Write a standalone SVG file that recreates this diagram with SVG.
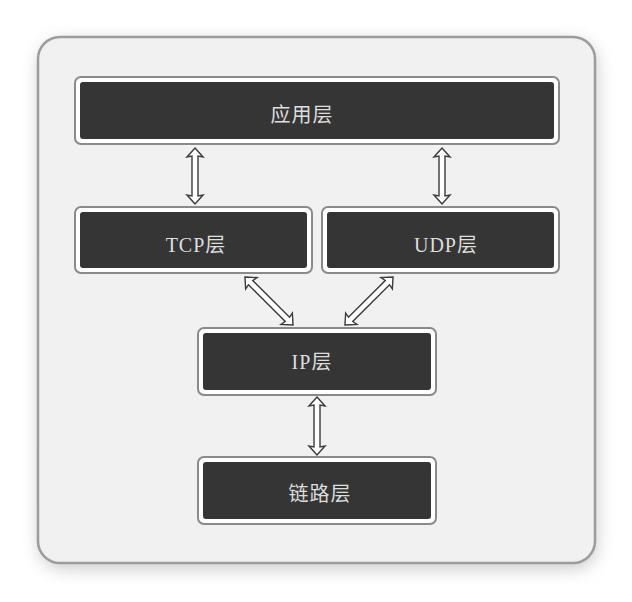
<svg xmlns="http://www.w3.org/2000/svg" width="632" height="602" viewBox="0 0 632 602">
  <defs>
    <filter id="shadow" x="-10%" y="-10%" width="120%" height="120%">
      <feGaussianBlur stdDeviation="9"/>
    </filter>
    <style>
      .frame { fill: #ffffff; stroke: #8a8a8a; stroke-width: 2; }
      .inner { fill: #353535; stroke: none; }
      .lbl { font-family: "Liberation Serif", "Noto Sans CJK SC", serif; font-size: 20px; fill: #dedede; text-anchor: middle; letter-spacing: 1px; }
      .arrow { fill: #ffffff; stroke: #3a3a3a; stroke-width: 1.4; stroke-linejoin: miter; }
    </style>
  </defs>
  <rect width="632" height="602" fill="#ffffff"/>
  <rect x="40" y="42" width="556" height="526" rx="22" fill="#9a9a9a" opacity="0.55" filter="url(#shadow)"/>
  <rect x="38" y="37" width="557" height="526" rx="22" fill="#f1f1f1" stroke="#9c9c9c" stroke-width="2.5"/>

  <g id="connectors">
    <polygon class="arrow" transform="translate(195,176)" points="0,-28 8,-19 3,-20 3,20 8,19 0,28 -8,19 -3,20 -3,-20 -8,-19"/>
    <polygon class="arrow" transform="translate(442,176)" points="0,-28 8,-19 3,-20 3,20 8,19 0,28 -8,19 -3,20 -3,-20 -8,-19"/>
    <polygon class="arrow" transform="translate(269,301) rotate(-45)" points="0,-34 8,-25 3,-26 3,26 8,25 0,34 -8,25 -3,26 -3,-26 -8,-25"/>
    <polygon class="arrow" transform="translate(369,301) rotate(45)" points="0,-34 8,-25 3,-26 3,26 8,25 0,34 -8,25 -3,26 -3,-26 -8,-25"/>
    <polygon class="arrow" transform="translate(317,426)" points="0,-29 8,-20 3,-21 3,21 8,20 0,29 -8,20 -3,21 -3,-21 -8,-20"/>
  </g>

  <g id="app">
    <rect class="frame" x="75" y="77" width="484" height="67" rx="6"/>
    <rect class="inner" x="80" y="82" width="474" height="57" rx="3"/>
    <text class="lbl" x="302" y="122">应用层</text>
  </g>
  <g id="tcp">
    <rect class="frame" x="75" y="207" width="237" height="66" rx="6"/>
    <rect class="inner" x="80" y="212" width="227" height="56" rx="3"/>
    <text class="lbl" x="196" y="252">TCP层</text>
  </g>
  <g id="udp">
    <rect class="frame" x="322" y="207" width="237" height="66" rx="6"/>
    <rect class="inner" x="327" y="212" width="227" height="56" rx="3"/>
    <text class="lbl" x="446" y="252">UDP层</text>
  </g>
  <g id="ip">
    <rect class="frame" x="198" y="328" width="238" height="67" rx="6"/>
    <rect class="inner" x="203" y="333" width="228" height="57" rx="3"/>
    <text class="lbl" x="312" y="369">IP层</text>
  </g>
  <g id="link">
    <rect class="frame" x="198" y="457" width="238" height="67" rx="6"/>
    <rect class="inner" x="203" y="462" width="228" height="57" rx="3"/>
    <text class="lbl" x="320" y="501">链路层</text>
  </g>
</svg>
